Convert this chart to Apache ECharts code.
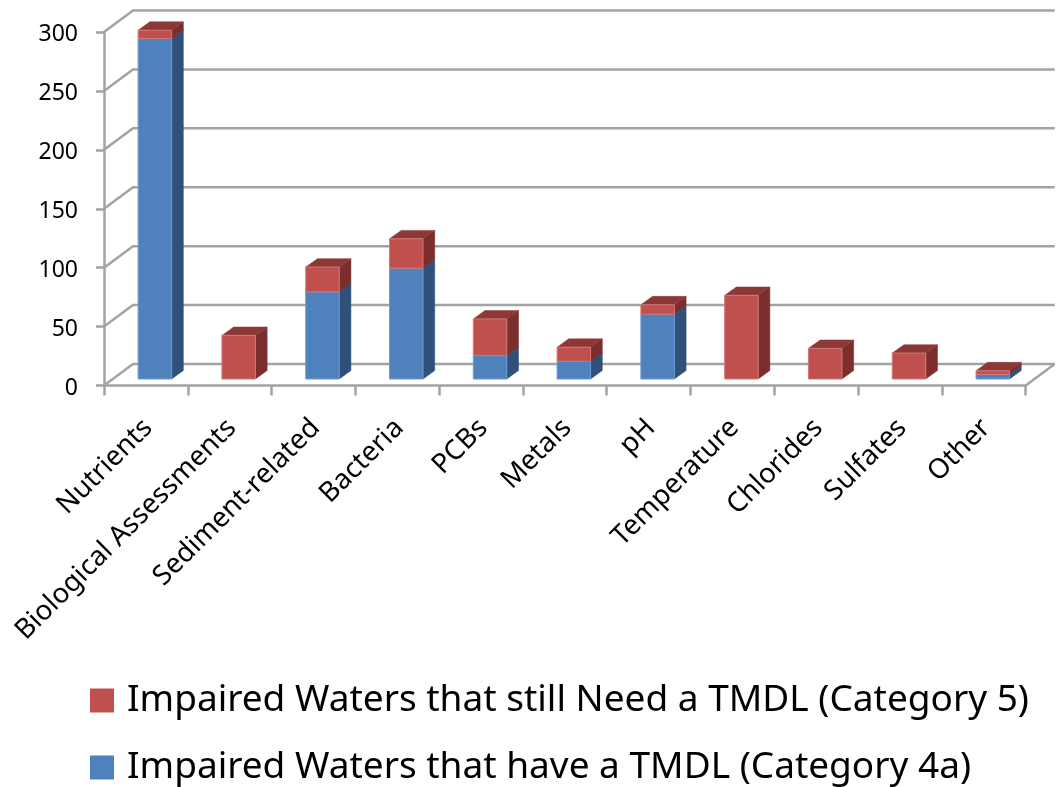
<!DOCTYPE html>
<html>
<head>
<meta charset="utf-8">
<style>html,body{margin:0;padding:0;background:#fff}#chart{width:1057px;height:787px}</style>
<script src="https://cdn.jsdelivr.net/npm/echarts@6/dist/echarts.min.js"></script>
</head>
<body>
<div id="chart"></div>
<script>
const categories = ['Nutrients','Biological Assessments','Sediment-related','Bacteria','PCBs','Metals','pH','Temperature','Chlorides','Sulfates','Other'];
const haveTmdl = [289,0,74,94,20,15,55,0,0,0,4];
const needTmdl = [7,37,21,25,31,12,8,71,26,22,3];
const yTicks = [0,50,100,150,200,250,300];
const nameNeed = 'Impaired Waters that still Need a TMDL (Category 5)';
const nameHave = 'Impaired Waters that have a TMDL (Category 4a)';

const FONT = '"Noto Sans"';
const GRID_COLOR = '#a3a3a3';
const GRID_WIDTH = 2.5;
// Depth of the chart box and of each column, in pixels on screen
const WALL_DX = 29, WALL_DY = 21.5;
const BAR_SHIFT_DX = 9, BAR_SHIFT_DY = 6.5;
const BAR_DX = 11.7, BAR_DY = 8.4;

function poly(points, fill, stroke) {
  return { type: 'polygon', shape: { points }, style: { fill, stroke: stroke || fill, lineWidth: stroke ? 1 : 0.5 } };
}

// Three visible faces of one column segment
function columnRenderer(front, edge, side, top) {
  return function (params, api) {
    const from = api.value(1), to = api.value(2);
    if (to <= from) return null;
    const band = api.size([1, 0])[0];
    const w = band * 0.4;
    const lo = api.coord([api.value(0), from]);
    const hi = api.coord([api.value(0), to]);
    const x0 = lo[0] + BAR_SHIFT_DX - w / 2, x1 = x0 + w;
    const y0 = lo[1] - BAR_SHIFT_DY, y1 = hi[1] - BAR_SHIFT_DY;
    return {
      type: 'group',
      children: [
        poly([[x1, y0], [x1 + BAR_DX, y0 - BAR_DY], [x1 + BAR_DX, y1 - BAR_DY], [x1, y1]], side),
        poly([[x0, y1], [x1, y1], [x1 + BAR_DX, y1 - BAR_DY], [x0 + BAR_DX, y1 - BAR_DY]], top),
        poly([[x0, y0], [x1, y0], [x1, y1], [x0, y1]], front, edge)
      ]
    };
  };
}

// Gridline running up the left wall and along the back wall
function wallRenderer(params, api) {
  const v = api.value(0);
  const box = params.coordSys;
  const y = api.coord([0, v])[1];
  const xl = box.x, xr = box.x + box.width;
  const style = { stroke: GRID_COLOR, lineWidth: GRID_WIDTH, fill: null };
  const children = [{
    type: 'polyline',
    shape: { points: [[xl, y], [xl + WALL_DX, y - WALL_DY], [xr + WALL_DX, y - WALL_DY]] },
    style
  }];
  if (v === 0) {
    children.push({
      type: 'line',
      shape: { x1: xr, y1: y, x2: xr + WALL_DX, y2: y - WALL_DY },
      style
    });
  }
  return { type: 'group', children };
}

const chart = echarts.init(document.getElementById('chart'), null, { renderer: 'canvas' });
chart.setOption({
  animation: false,
  backgroundColor: '#fff',
  textStyle: { fontFamily: FONT },
  grid: { left: 104, top: 32, width: 921.7, height: 353.5 },
  legend: {
    orient: 'vertical',
    left: 90,
    top: 682,
    padding: 0,
    itemWidth: 24,
    itemHeight: 24,
    itemGap: 30,
    selectedMode: false,
    icon: 'rect',
    data: [nameNeed, nameHave],
    textStyle: { fontFamily: FONT, fontSize: 37, lineHeight: 37, color: '#000', padding: [0, 0, 0, 8] }
  },
  xAxis: {
    type: 'category',
    data: categories,
    boundaryGap: true,
    axisLine: { lineStyle: { color: GRID_COLOR, width: GRID_WIDTH } },
    axisTick: { show: true, length: 10, lineStyle: { color: GRID_COLOR, width: GRID_WIDTH } },
    axisLabel: {
      interval: 0, rotate: 45, margin: 36,
      formatter: c => `{c|${c}}`,
      rich: { c: { fontFamily: FONT, fontSize: 27.5, color: '#000', padding: [6, 0, 0, 0] } }
    }
  },
  yAxis: {
    type: 'value',
    min: 0,
    max: 300,
    interval: 50,
    axisLine: { show: true, lineStyle: { color: GRID_COLOR, width: GRID_WIDTH } },
    axisTick: { show: true, length: 8, lineStyle: { color: GRID_COLOR, width: GRID_WIDTH } },
    splitLine: { show: false },
    axisLabel: {
      margin: 26,
      formatter: v => `{n|${v}}`,
      rich: { n: { fontFamily: FONT, fontSize: 23, color: '#000', padding: [5, 0, 0, 0] } }
    }
  },
  series: [
    {
      type: 'custom', name: 'walls', silent: true, z: 1,
      coordinateSystem: 'cartesian2d',
      renderItem: wallRenderer,
      encode: { y: 0 },
      data: yTicks.map(v => [v])
    },
    {
      type: 'custom', name: nameHave, z: 2,
      coordinateSystem: 'cartesian2d',
      itemStyle: { color: '#4f81bd' },
      renderItem: columnRenderer('#4f81bd', '#6d9ad2', '#2f5079', '#3a6394'),
      encode: { x: 0, y: 2 },
      data: categories.map((c, i) => [i, 0, haveTmdl[i]])
    },
    {
      type: 'custom', name: nameNeed, z: 3,
      coordinateSystem: 'cartesian2d',
      itemStyle: { color: '#c0504d' },
      renderItem: columnRenderer('#c0504d', '#d57875', '#7a2f2e', '#8c3836'),
      encode: { x: 0, y: 2 },
      data: categories.map((c, i) => [i, haveTmdl[i], haveTmdl[i] + needTmdl[i]])
    }
  ]
});
</script>
</body>
</html>
